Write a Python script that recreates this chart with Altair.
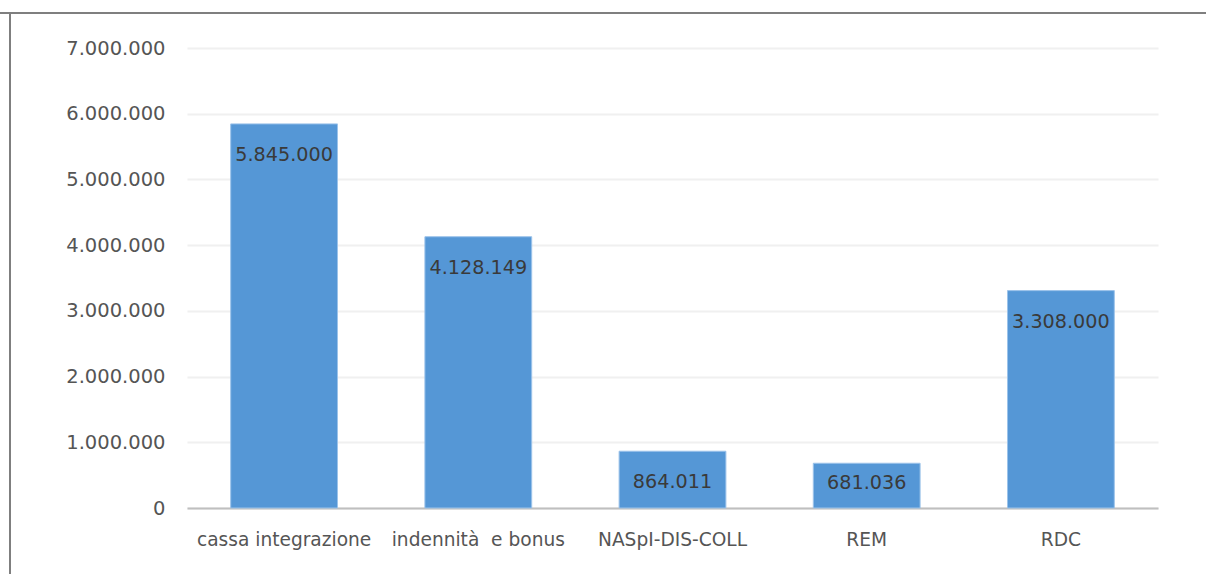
import altair as alt
import pandas as pd

# Beneficiari per misura di sostegno
categories = ["cassa integrazione", "indennità\u00a0 e bonus", "NASpI-DIS-COLL", "REM", "RDC"]
values = [5845000, 4128149, 864011, 681036, 3308000]
value_labels = ["5.845.000", "4.128.149", "864.011", "681.036", "3.308.000"]
y_ticks = [0, 1000000, 2000000, 3000000, 4000000, 5000000, 6000000, 7000000]

df = pd.DataFrame({"categoria": categories, "valore": values, "etichetta": value_labels})

FONT = "DejaVu Sans"
W, H = 971, 460
PAD_L, PAD_T = 187, 48

x = alt.X("categoria:N", sort=categories, title=None,
          scale=alt.Scale(paddingInner=0.45, paddingOuter=0.225),
          axis=alt.Axis(labelAngle=0, labelFont=FONT, labelFontSize=18.6,
                        labelColor="#555555", labelPadding=22, ticks=False,
                        domainColor="#bfbfbf", domainWidth=2, grid=False))

y_scale = alt.Scale(domain=[0, 7000000], nice=False)

bars = alt.Chart(df).mark_bar(color="#5597d6", stroke="#9cc3ea", strokeWidth=1).encode(
    x=x,
    y=alt.Y("valore:Q", scale=y_scale, title=None,
            axis=alt.Axis(values=y_ticks, labelExpr="replace(format(datum.value, ',d'), /,/g, '.')",
                          labelFont=FONT, labelFontSize=19.5, labelColor="#555555",
                          labelPadding=22, ticks=False, domain=False,
                          gridColor="#f0f0f0", gridWidth=2)),
)

# labels sit just inside the top of each bar, but never too close to the baseline
labels = alt.Chart(df).transform_calculate(
    pos="max(datum.valore - 470000, 380000)"
).mark_text(font=FONT, fontSize=19.2, color="#3a3a3a", baseline="middle").encode(
    x=alt.X("categoria:N", sort=categories),
    y=alt.Y("pos:Q", scale=y_scale),
    text="etichetta:N",
)

# outer frame (top and left edges)
frame_top = alt.Chart(df).mark_rule(color="#7f7f7f", strokeWidth=2).encode(
    x=alt.value(-PAD_L), x2=alt.value(1206 - PAD_L), y=alt.value(13 - PAD_T))
frame_left = alt.Chart(df).mark_rule(color="#7f7f7f", strokeWidth=2).encode(
    x=alt.value(10 - PAD_L), y=alt.value(13 - PAD_T), y2=alt.value(574 - PAD_T))

chart = alt.layer(bars, labels, frame_top, frame_left).properties(
    width=W, height=H,
    padding={"left": PAD_L, "top": PAD_T, "right": 1206 - PAD_L - W, "bottom": 574 - PAD_T - H},
    autosize=alt.AutoSizeParams(type="none"),
    background="white",
).configure_view(stroke=None)

chart.save("out.html", embed_options={"renderer": "svg", "actions": False})
